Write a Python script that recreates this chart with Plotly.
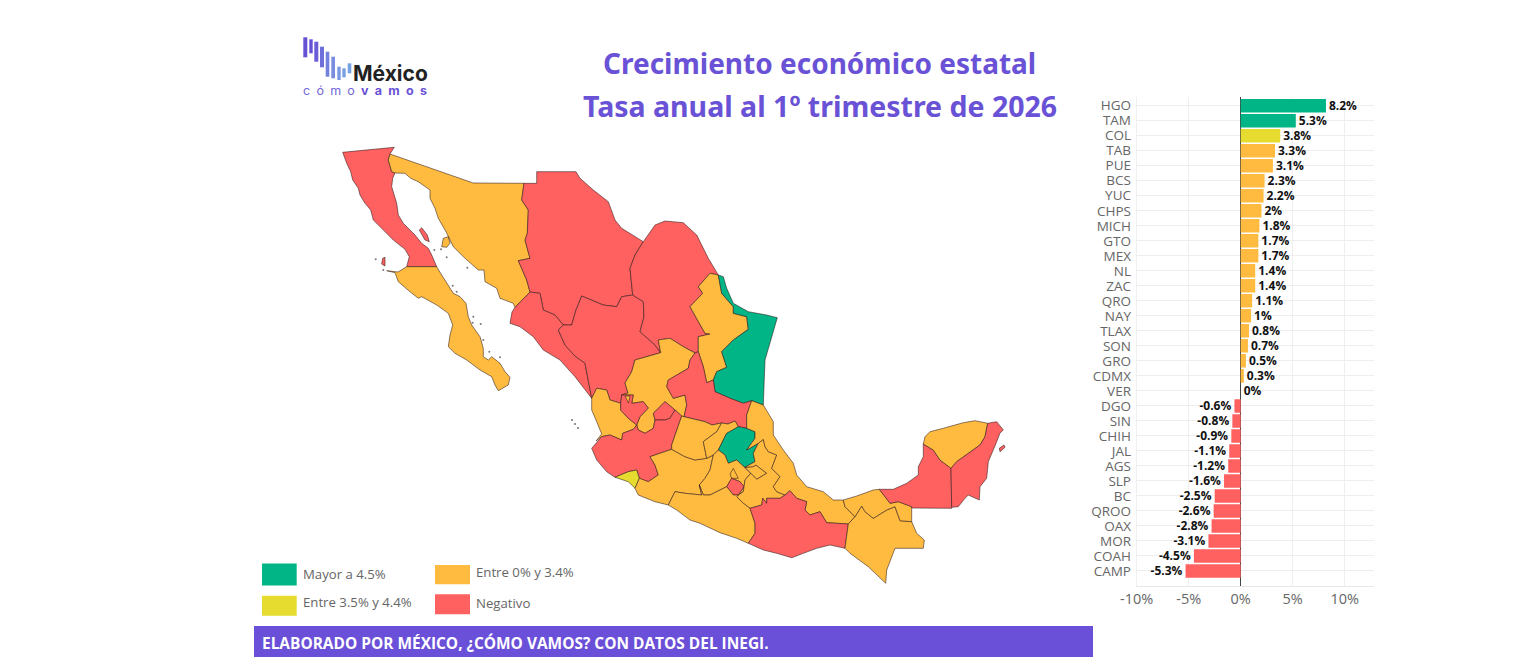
import plotly.graph_objects as go

# ---------- data ----------
state_codes = ["HGO","TAM","COL","TAB","PUE","BCS","YUC","CHPS","MICH","GTO","MEX","NL","ZAC","QRO","NAY","TLAX",
               "SON","GRO","CDMX","VER","DGO","SIN","CHIH","JAL","AGS","SLP","BC","QROO","OAX","MOR","COAH","CAMP"]
growth = [8.2,5.3,3.8,3.3,3.1,2.3,2.2,2,1.8,1.7,1.7,1.4,1.4,1.1,1,0.8,
          0.7,0.5,0.3,0,-0.6,-0.8,-0.9,-1.1,-1.2,-1.6,-2.5,-2.6,-2.8,-3.1,-4.5,-5.3]
x_ticks = [-10,-5,0,5,10]
x_tick_labels = ["-10%","-5%","0%","5%","10%"]

legend_labels = ["Mayor a 4.5%","Entre 3.5% y 4.4%","Entre 0% y 3.4%","Negativo"]
title_lines = ["Crecimiento económico estatal","Tasa anual al 1º trimestre de 2026"]
footer_text = "ELABORADO POR MÉXICO, ¿CÓMO VAMOS? CON DATOS DEL INEGI."

GREEN, YELLOW, ORANGE, RED = "#02b586", "#e6dc2f", "#ffbb40", "#ff6060"
PURPLE = "#6a52d6"

def band(v):
    if v >= 4.5: return GREEN
    if v >= 3.5: return YELLOW
    if v >= 0: return ORANGE
    return RED

outlines = {
 "BC": [[(342.7,152.3),(394.3,147.3),(390,154),(388.3,160),(391.7,171.7),(395,173),(392.7,178.3),(391.7,186.7),(396.7,203.3),(398.3,215),(403.3,223.3),(415,235),(421.7,243.3),(428.3,248.3),(431.7,255),(436.7,266.7),(406.7,266.7),(409.3,256.7),(405,249.3),(393.3,240),(381.7,228.3),(373.3,220),(370.7,210),(365,203.3),(360,195),(358.3,188.3),(352.7,180),(350.7,171.7),(346.7,163.3)],
        [(419.3,230),(421.7,227.7),(427.3,235),(429.3,241.7),(425,240)],
        [(381.7,264),(382.7,258.3),(385,257.3),(385,266)]],
 "BCS": [[(406.7,266.7),(436.7,266.7),(441.7,275),(446.7,283.3),(453.3,293.3),(460,296.7),(466,303.3),(468.3,316.7),(471.7,325),(480,336.7),(483.3,348.3),(483.3,356.7),(488.3,360),(491.7,356.7),(500,363.3),(505,371.7),(510,377.3),(508.3,385),(498.3,390.7),(495,385),(491.7,376.7),(480,370),(466.7,360),(455,353.3),(448.3,346.7),(450,335),(452.7,325),(448.3,313.3),(436.7,305),(421.7,296.7),(418.3,298.3),(410,291.7),(398.3,281.7),(395,272.7),(386.7,270.7),(398,272),(405,268.3)]],
 "SON": [[(390,154),(473.3,183),(524,183.3),(522.7,191.7),(521.7,200),(528.3,210),(527.3,233.3),(525,240),(530,258.3),(518.3,260.7),(526.7,280),(530,292),(515,307.3),(513.3,303.3),(500,298.3),(496.7,288.3),(485,281.7),(484,270),(478.3,270),(465,258.3),(453.3,246.7),(446,231.7),(438.3,218.3),(435,208.3),(430,198.3),(430,190),(418.3,181.7),(410.7,178.3),(405,173.3),(395,173),(391.7,171.7),(388.3,160)],
         [(441.7,246.7),(443.3,238.3),(448.3,236.7),(450,243.3),(446.7,247.3)]],
 "CHIH": [[(524,183.3),(536.7,183.3),(536.7,171.7),(576,171.7),(580,178.3),(593.3,190),(608.3,201.7),(615,220),(621.7,228.3),(643.3,241.7),(635,255),(630,268.3),(632.7,295),(621.7,296.7),(616.7,306.7),(603.3,305),(581.7,296),(576,310),(571.7,325),(563.3,325),(555,315),(543.3,310),(540,293.3),(530,292),(526.7,280),(518.3,260.7),(530,258.3),(525,240),(527.3,233.3),(528.3,210),(521.7,200),(522.7,191.7)]],
 "SIN": [[(530,292),(540,293.3),(543.3,310),(555,315),(563.3,325),(558.3,330),(565,345),(575,356),(585,363.3),(586.7,373.3),(591.7,398.3),(575,376.7),(560,360),(543.3,350),(533.3,336.7),(520,326.7),(510,323.3),(512,312),(515,307.3)]],
 "DGO": [[(563.3,325),(571.7,325),(576,310),(581.7,296),(603.3,305),(616.7,306.7),(621.7,296.7),(632.7,295),(643.3,301.7),(644,316.7),(640,331.7),(655,345),(660.7,352.7),(635,360),(631.7,371.7),(625,383),(628,393),(621.7,395),(620.7,403.3),(610,400),(606.7,390),(596.7,388.3),(591.7,398.3),(586.7,373.3),(585,363.3),(575,356),(565,345),(558.3,330)]],
 "COAH": [[(643.3,241.7),(655,225),(665,221),(683.3,222.7),(696.7,235),(708.3,258.3),(718.3,275),(710,273.3),(698.3,286.7),(702.7,293.3),(690,306.7),(705,333.3),(710,334),(698.3,336.7),(698.3,351.7),(695,353),(683.3,346.7),(670,338.3),(658.3,340),(660.7,352.7),(655,345),(640,331.7),(644,316.7),(643.3,301.7),(632.7,295),(630,268.3),(635,255)]],
 "NL": [[(710,273.3),(718.3,275),(721.7,293.3),(733.3,306.7),(733.3,313.3),(746.7,316.7),(748.3,329.3),(733.3,340),(721.7,351.7),(726.7,367.3),(716.7,371.7),(713.3,380),(706.7,382.7),(703.3,366.7),(698.3,351.7),(698.3,336.7),(710,334),(705,333.3),(690,306.7),(702.7,293.3),(698.3,286.7)]],
 "TAM": [[(718.3,275),(723.3,276.7),(726.7,288.3),(733.3,303.3),(748.3,311.7),(766.7,315),(777.3,317.7),(771.7,336.7),(765,360),(763.3,405),(751.7,400.7),(743.3,403.3),(730,398.3),(715,391.7),(713.3,380),(716.7,371.7),(726.7,367.3),(721.7,351.7),(733.3,340),(748.3,329.3),(746.7,316.7),(733.3,313.3),(733.3,306.7),(721.7,293.3)]],
 "ZAC": [[(660.7,352.7),(658.3,340),(670,338.3),(683.3,346.7),(695,353),(690,360),(688.3,368.3),(668.3,380),(666.7,386.7),(673.3,398.3),(685,395),(686.7,405),(684,416.7),(681.7,416),(675,410),(665,401.7),(653.3,413.3),(655,420),(653.3,428.3),(645,433.3),(638.3,430),(636.7,425),(640,416.7),(648.3,408),(643.3,401.7),(631.7,403.3),(633.3,395),(621.7,395),(628,393),(625,383),(631.7,371.7),(635,360)]],
 "SLP": [[(695,353),(698.3,351.7),(703.3,366.7),(706.7,382.7),(713.3,380),(715,391.7),(730,398.3),(743.3,403.3),(751.7,400.7),(746.7,415),(746.7,428.3),(738.3,426.7),(735,421),(728,424),(721.7,423),(712,425),(705,421.7),(684,416.7),(686.7,405),(685,395),(673.3,398.3),(666.7,386.7),(668.3,380),(688.3,368.3),(690,360)]],
 "AGS": [[(653.3,413.3),(665,401.7),(675,410),(670,418.3),(665,420),(655,420)]],
 "NAY": [[(596.7,388.3),(606.7,390),(610,400),(620.7,403.3),(620.7,410),(628,418),(636.7,425),(633.3,429.3),(622.7,433.3),(621.7,440),(610,435),(601.7,436.7),(596,441),(601.7,434),(596,420),(591.7,410),(591.7,398.3)]],
 "JAL": [[(591.7,448.3),(601.7,436.7),(610,435),(621.7,440),(622.7,433.3),(633.3,429.3),(636.7,425),(638.3,430),(645,433.3),(653.3,428.3),(655,420),(665,420),(670,418.3),(675,410),(681.7,416),(671.7,445),(671.7,449.3),(650,456.7),(655,465),(658.3,475),(648.3,481.7),(639.3,478.3),(636.7,470),(628.3,471.7),(615,477.3),(606.7,471.7),(596.7,460)],
         [(620.7,403.3),(621.7,395),(633.3,395),(631.7,403.3),(643.3,401.7),(648.3,408),(640,416.7),(636.7,425),(628,418),(620.7,410)]],
 "COL": [[(615,477.3),(628.3,471.7),(636.7,470),(639.3,478.3),(635,488.3),(628.3,481.7)]],
 "MICH": [[(650,456.7),(671.7,449.3),(685,456.7),(695,460),(706.7,458.3),(713.3,455),(710,470),(705,478.3),(699.3,485),(701.7,495),(685,493.3),(675,491.7),(668.3,505),(655,501.7),(638.3,495),(635,488.3),(639.3,478.3),(648.3,481.7),(658.3,475),(655,465)]],
 "GTO": [[(681.7,416),(684,416.7),(705,421.7),(712,425),(721.7,423),(716.7,431.7),(703.3,441.7),(706.7,458.3),(695,460),(685,456.7),(671.7,449.3),(671.7,445)]],
 "QRO": [[(721.7,423),(728,424),(735,421),(738.3,426.7),(733.3,430),(726.7,433.3),(718.3,450),(713.3,455),(706.7,458.3),(703.3,441.7),(716.7,431.7)]],
 "HGO": [[(726.7,433.3),(733.3,430),(738.3,426.7),(746.7,428.3),(755,431.7),(755,438.3),(746.7,450),(758.3,443.3),(753.3,453.3),(755,461.7),(745,467.3),(736.7,460),(728.3,463.3),(725,455),(718.3,450)]],
 "MEX": [[(713.3,455),(718.3,450),(725,455),(728.3,463.3),(736.7,460),(745,467.3),(750.7,473.3),(745,480),(743.3,491.7),(738.3,495),(744,486.7),(740,481.7),(731.7,478.3),(726.7,486.7),(710,495),(703.3,495),(699.3,485),(705,478.3),(710,470)]],
 "CDMX": [[(733.3,468.3),(738.3,478.3),(731.7,478.3),(730,474)]],
 "MOR": [[(731.7,478.3),(740,481.7),(744,486.7),(738.3,495),(733.3,495),(726.7,486.7)]],
 "TLAX": [[(745,467.3),(752.7,466.7),(756,465),(766.7,473.3),(756.7,479.3),(750.7,473.3)]],
 "PUE": [[(755,461.7),(753.3,453.3),(758.3,443.3),(763.3,439.3),(765,446.7),(768.3,451.7),(776.7,455),(771.7,468.3),(780,476.7),(773.3,486.7),(776.7,491.7),(785,495),(780,498.3),(766.7,498.3),(766.7,503.3),(762.7,498.3),(761.7,505),(750,508.3),(743.3,503.3),(736.7,496.7),(738.3,495),(743.3,491.7),(745,480),(750.7,473.3),(756.7,479.3),(766.7,473.3),(756,465),(752.7,466.7),(745,467.3)]],
 "VER": [[(751.7,400.7),(763.3,405),(773.3,421.7),(773.3,435),(783.3,450),(793.3,463.3),(796.7,475),(806.7,486.7),(823.3,491.7),(833.3,500),(843.3,500),(845,506.7),(855,516.7),(848.3,524),(826.7,522.7),(820,511.7),(810,515),(805,510),(806.7,501.7),(796.7,498.3),(790,490.7),(785,495),(776.7,491.7),(773.3,486.7),(780,476.7),(771.7,468.3),(776.7,455),(768.3,451.7),(765,446.7),(763.3,439.3),(758.3,443.3),(746.7,450),(755,438.3),(755,431.7),(746.7,428.3),(746.7,415)]],
 "GRO": [[(668.3,505),(675,491.7),(685,493.3),(701.7,495),(699.3,485),(703.3,495),(710,495),(726.7,486.7),(733.3,495),(738.3,495),(736.7,496.7),(743.3,503.3),(750,508.3),(755,523.3),(755,533.3),(748.3,543.3),(736.7,538.3),(720,532.7),(700,523.3),(690,520),(676.7,510)]],
 "OAX": [[(750,508.3),(761.7,505),(762.7,498.3),(766.7,503.3),(766.7,498.3),(780,498.3),(785,495),(790,490.7),(796.7,498.3),(806.7,501.7),(805,510),(810,515),(820,511.7),(826.7,522.7),(848.3,524),(845,548.3),(830,545),(816.7,548.3),(803.3,553.3),(791.7,557.7),(776.7,553.3),(763.3,550),(748.3,543.3),(755,533.3),(755,523.3)]],
 "CHPS": [[(848.3,524),(855,516.7),(861.7,506),(865,511.7),(873.3,518.3),(886.7,510),(895,506.7),(900,520.7),(911.7,521.7),(916.7,533.3),(924.3,540),(923.3,548.3),(895,548.3),(886.7,570),(885.7,583.3),(868.3,566.7),(850,553.3),(845,548.3)]],
 "TAB": [[(843.3,500),(856.7,496),(873.3,490),(879.3,489.3),(885,496.7),(890,503.3),(898.3,501.7),(911.7,506.7),(911.7,521.7),(900,520.7),(895,506.7),(886.7,510),(873.3,518.3),(865,511.7),(861.7,506),(855,516.7),(845,506.7)]],
 "CAMP": [[(923.3,444),(933.3,450),(940,460),(951,468.3),(951.7,508.3),(911.7,508),(911.7,506.7),(898.3,501.7),(890,503.3),(885,496.7),(879.3,489.3),(893.3,489.3),(906.7,483.3),(918.3,475),(918.3,466.7),(923.3,456.7)]],
 "YUC": [[(925,436.7),(923.3,444),(933.3,450),(940,460),(951,468.3),(956.7,461.7),(968.3,453.3),(980,445),(985,436.7),(987.7,423.3),(975,420.7),(963.3,422.7),(943.3,428.3),(930,431.7)]],
 "QROO": [[(987.7,423.3),(996.7,421.7),(1003.3,430),(1000,433),(996.7,441.7),(988.3,461.7),(986.7,478.3),(980,486.7),(979.3,500),(968.3,495),(965,498.3),(958.3,506.7),(951.7,507.3),(951,468.3),(956.7,461.7),(968.3,453.3),(980,445),(985,436.7)],
          [(999.3,448.3),(1004,445),(1005,447.3),(1000,451.7)]],
}
zac_enclave = [(625,396),(630,396),(628.5,403)]
small_islands_x = [375.7,383.3,434.3,441,446.7,467.3,452.7,456.7,473.3,472.7,480.7,483.3,489.3,500,572,575,578]
small_islands_y = [259.3,270,250,249.3,257.3,267.7,285.7,291.7,316.7,322.7,324,340,351.7,357.3,420,424,428]

fig = go.Figure()

# ---------- bars ----------
fig.add_trace(go.Bar(
    x=growth, y=state_codes, orientation="h",
    marker=dict(color=[band(v) for v in growth], line=dict(width=0)),
    text=[f"<b>{v:g}%</b>" for v in growth], textposition="outside", cliponaxis=False, constraintext="none",
    textfont=dict(family="Open Sans", size=12, color="#111"),
    hovertemplate="%{y}: %{x}%<extra></extra>", showlegend=False,
))

# ---------- map ----------
BORDER = "rgba(40,20,20,0.6)"
value_of = dict(zip(state_codes, growth))
for code, parts in outlines.items():
    xs, ys = [], []
    for part in parts:
        closed = part + [part[0]]
        xs += [p[0] for p in closed] + [None]
        ys += [p[1] for p in closed] + [None]
    fig.add_trace(go.Scatter(x=xs, y=ys, xaxis="x2", yaxis="y2", mode="lines", fill="toself",
                             fillcolor=band(value_of[code]),
                             line=dict(color=BORDER, width=0.9),
                             name=code, showlegend=False, hoverinfo="name"))
fig.add_trace(go.Scatter(x=[p[0] for p in zac_enclave+zac_enclave[:1]], y=[p[1] for p in zac_enclave+zac_enclave[:1]],
                         xaxis="x2", yaxis="y2", mode="lines", fill="toself", fillcolor=ORANGE,
                         line=dict(color=BORDER, width=0.9), showlegend=False, hoverinfo="skip"))
fig.add_trace(go.Scatter(x=small_islands_x, y=small_islands_y, xaxis="x2", yaxis="y2", mode="markers",
                         marker=dict(size=2, color="#777"), showlegend=False, hoverinfo="skip"))

# ---------- decoration ----------
def rect(x0, y0, x1, y1, color):
    return dict(type="rect", xref="x2", yref="y2", x0=x0, y0=y0, x1=x1, y1=y1,
                fillcolor=color, line=dict(width=0), layer="below")

shapes = [
    rect(262,563.5,296.7,585.5,GREEN), rect(262,595.7,296.7,615.7,YELLOW),
    rect(435,565,470,584.3,ORANGE), rect(435,594.3,470,614.3,RED),
    rect(254,626,1093,657,"#6a4fd8"),
]
logo_bars = [(303.3,37.3,307.3,57.3,"#6551d4"),(309.3,39.3,312.7,53.3,"#6551d4"),(314.3,41.7,318.3,61.7,"#6a5dd8"),
             (320,46.7,324,67.3,"#6f6fdc"),(325.7,51.7,329.3,76.7,"#7480de"),(331.3,56.7,335,78.3,"#7a8ee0"),
             (337.3,66.7,340.7,80,"#7a98e2"),(342.3,68.3,345.7,77.3,"#78a0e2"),(347.7,63.3,351.3,73.3,"#74a2e2")]
shapes += [rect(*b) for b in logo_bars]

def label(x, y, text, size, color, family="Open Sans", anchor="left"):
    return dict(xref="x2", yref="y2", x=x, y=y, text=text, showarrow=False, xanchor=anchor, yanchor="middle",
                font=dict(family=family, size=size, color=color))

EN = "\u2002"
logo_sub = f"<span style='color:#7468d8'>{EN.join('cómo')}</span>{EN}<b>{EN.join('vamos')}</b>"

annotations = [
    label(819.5, 63, f"<b>{title_lines[0]}</b>", 28, PURPLE, "Noto Sans", "center"),
    label(819.5, 106, f"<b>{title_lines[1]}</b>", 28.5, PURPLE, "Noto Sans", "center"),
    label(301, 574, legend_labels[0], 13.2, "#666"),
    label(301, 602, legend_labels[1], 13.2, "#666"),
    label(474, 572, legend_labels[2], 13.2, "#666"),
    label(474, 603, legend_labels[3], 13.2, "#666"),
    label(260, 642.5, f"<b>{footer_text}</b>", 15.45, "#ffffff"),
    label(351, 73.5, "<b>México</b>", 21, "#222222", "Inter"),
    label(301, 90, logo_sub, 12.5, PURPLE, "Inter"),
]

W, H = 1530, 671
fig.update_layout(
    width=W, height=H, margin=dict(l=0, r=0, t=0, b=0, autoexpand=False), paper_bgcolor="white", plot_bgcolor="rgba(0,0,0,0)",
    bargap=0.1, shapes=shapes, annotations=annotations, showlegend=False,
    xaxis=dict(domain=[1136.7/W, 1374/W], range=[-10, 12.82], tickvals=x_ticks, ticktext=x_tick_labels,
               showgrid=True, gridcolor="#eeeeee", gridwidth=1, zeroline=True, zerolinecolor="#444", zerolinewidth=1.2,
               tickfont=dict(family="Open Sans", size=14.5, color="#666"), ticks="", showline=True, linecolor="#e8e8e8",
               anchor="y", automargin=False),
    yaxis=dict(domain=[1-586/H, 1-96.7/H], range=[32, -0.6], type="category", categoryorder="array", categoryarray=state_codes,
               showgrid=True, gridcolor="#eeeeee", gridwidth=1, tickmode="array", tickvals=state_codes,
               tickfont=dict(family="Open Sans", size=13.5, color="#666"), ticks="outside", ticklen=2, tickcolor="rgba(0,0,0,0)",
               showline=True, linecolor="#f0f0f0", anchor="x", automargin=False),
    xaxis2=dict(domain=[0, 1], range=[0, W], visible=False, anchor="y2", automargin=False),
    yaxis2=dict(domain=[0, 1], range=[H, 0], visible=False, anchor="x2", automargin=False),
)

fig.write_html("out.html", config=dict(displayModeBar=False),
               post_script="document.body.style.margin='0';document.body.style.overflow='hidden';")
